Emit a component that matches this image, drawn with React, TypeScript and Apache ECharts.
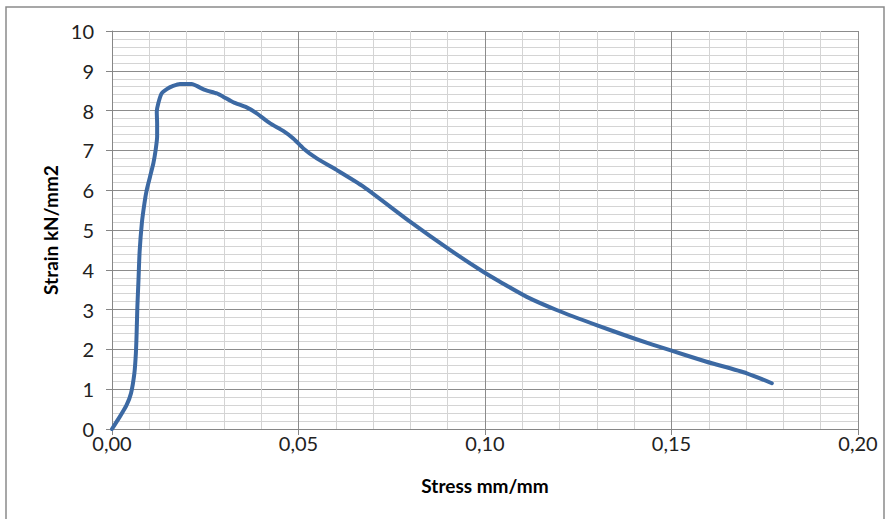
import React, { useEffect, useRef } from "react";
import * as echarts from "echarts";

const stressX: number[] = [
  0, 0.0021, 0.0039, 0.0051, 0.006, 0.0064, 0.0066, 0.0068, 0.0071, 0.0074,
  0.008, 0.0087, 0.0093, 0.0102, 0.0111, 0.0117, 0.0121, 0.0121, 0.012, 0.0124,
  0.0133, 0.0147, 0.0164, 0.0182, 0.0214, 0.0227, 0.0249, 0.0281, 0.0298, 0.0325,
  0.0361, 0.0388, 0.0424, 0.0459, 0.0486, 0.0513, 0.0549, 0.0602, 0.0674, 0.0799,
  0.0906, 0.0995, 0.104, 0.1112, 0.1192, 0.1299, 0.1398, 0.1496, 0.1594, 0.1702,
  0.1769,
];
const strainY: number[] = [
  0, 0.31, 0.6, 0.9, 1.4, 1.9, 2.4, 3.07, 3.74, 4.45,
  5.17, 5.67, 6.0, 6.34, 6.68, 7.01, 7.34, 7.68, 7.97, 8.18,
  8.43, 8.54, 8.62, 8.67, 8.67, 8.62, 8.52, 8.43, 8.35, 8.21,
  8.08, 7.93, 7.68, 7.49, 7.3, 7.05, 6.8, 6.51, 6.09, 5.21,
  4.5, 3.95, 3.7, 3.32, 2.99, 2.61, 2.28, 1.98, 1.69, 1.4,
  1.15,
];
const xAxisTitle = "Stress mm/mm";
const yAxisTitle = "Strain kN/mm2";

export default function App() {
  const ref = useRef<HTMLDivElement>(null);
  useEffect(() => {
    if (!ref.current) return;
    const chart = echarts.init(ref.current, null, { renderer: "svg" });
    const font = "Lato, 'Open Sans', sans-serif";
    const data = stressX.map((x, i) => [x, strainY[i]]);
    chart.setOption({
      animation: false,
      backgroundColor: "#ffffff",
      grid: { left: 112, top: 31, right: 29, bottom: 90, containLabel: false },
      graphic: [
        {
          type: "rect",
          shape: { x: 6, y: 7, width: 878, height: 520 },
          style: { fill: "none", stroke: "#8a8a8a", lineWidth: 1.5 },
          silent: true,
          z: -10,
        },
      ],
      xAxis: {
        type: "value",
        min: 0,
        max: 0.2,
        interval: 0.05,
        name: xAxisTitle,
        nameLocation: "middle",
        nameGap: 47,
        nameTextStyle: { fontFamily: font, fontSize: 19, fontWeight: "bold", color: "#000" },
        axisLine: { show: true, lineStyle: { color: "#868686", width: 1 } },
        axisTick: { show: true, inside: false, length: 6, lineStyle: { color: "#868686" } },
        axisLabel: {
          margin: 4,
          fontFamily: font,
          fontSize: 20,
          color: "#222",
          formatter: (v: number) => v.toFixed(2).replace(".", ","),
        },
        splitLine: { show: true, lineStyle: { color: "#8c8c8c", width: 1 } },
        minorTick: { show: false, splitNumber: 5 },
        minorSplitLine: { show: true, lineStyle: { color: "#d4d4d4", width: 1 } },
      },
      yAxis: {
        type: "value",
        min: 0,
        max: 10,
        interval: 1,
        name: yAxisTitle,
        nameLocation: "middle",
        nameGap: 51,
        nameRotate: 90,
        nameTextStyle: { fontFamily: font, fontSize: 19, fontWeight: "bold", color: "#000" },
        axisLine: { show: true, lineStyle: { color: "#868686", width: 1 } },
        axisTick: { show: true, inside: false, length: 6, lineStyle: { color: "#868686" } },
        axisLabel: { margin: 18, fontFamily: font, fontSize: 20, color: "#222" },
        splitLine: { show: true, lineStyle: { color: "#8c8c8c", width: 1 } },
        minorTick: { show: false, splitNumber: 5 },
        minorSplitLine: { show: true, lineStyle: { color: "#d4d4d4", width: 1 } },
      },
      series: [
        {
          type: "line",
          data,
          showSymbol: false,
          symbol: "none",
          smooth: 0.2,
          lineStyle: { color: "#3C69A3", width: 4, cap: "round", join: "round" },
          z: 5,
        },
      ],
    });
    return () => chart.dispose();
  }, []);
  return (
    <div
      ref={ref}
      style={{ position: "absolute", left: 0, top: 0, width: 887, height: 519 }}
    />
  );
}
